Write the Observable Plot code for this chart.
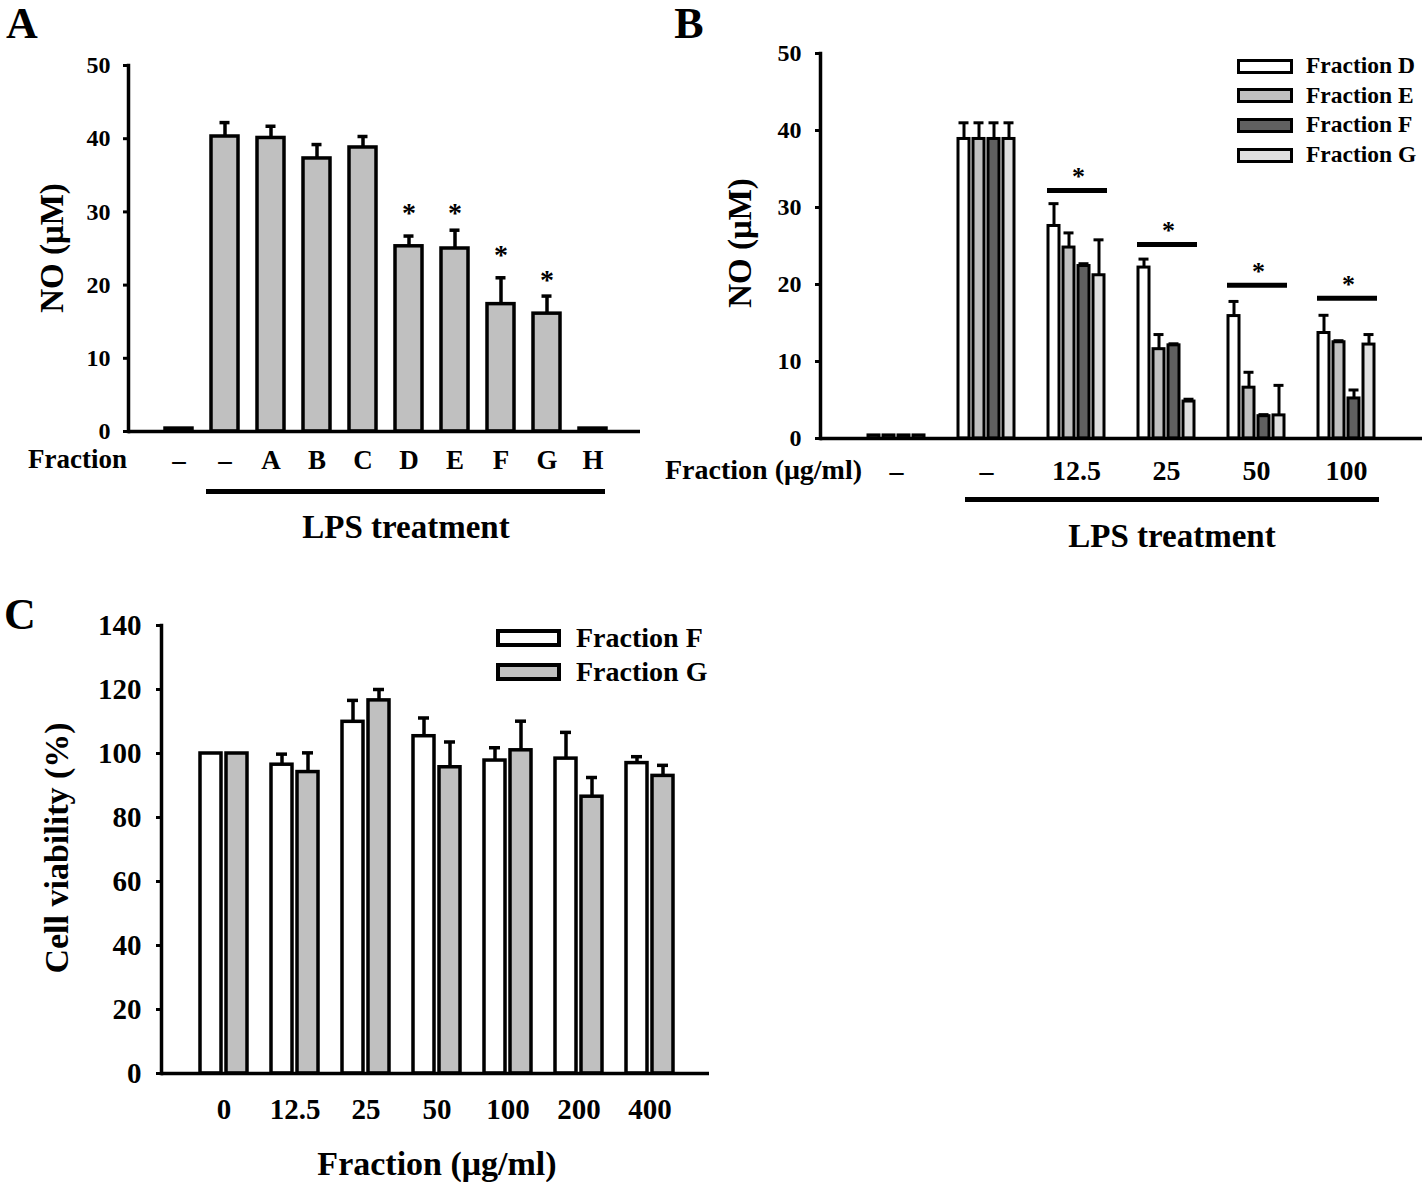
<!DOCTYPE html>
<html><head><meta charset="utf-8">
<script src="https://cdn.jsdelivr.net/npm/d3@7"></script>
<script src="https://cdn.jsdelivr.net/npm/@observablehq/plot@0.6"></script>
<style>
body{margin:0;background:#fff;}
#fig{position:relative;width:1422px;height:1182px;font-family:"Liberation Serif","Times New Roman",serif;font-weight:bold;color:#000;overflow:hidden;}
.abs{position:absolute;white-space:nowrap;line-height:1;}
.panel{position:absolute;}
.panel svg{position:absolute;left:0;top:0;overflow:visible;max-width:none;}
.sw{position:absolute;box-sizing:border-box;border:solid #000;}
</style></head><body><div id="fig"></div>
<script>
// ---------- Panel A data ----------
const catsA = ["ctrl","LPS","A","B","C","D","E","F","G","H"];
const labelsA = ["–","–","A","B","C","D","E","F","G","H"];
const meanA = [0.4,40.3,40.1,37.3,38.8,25.3,25.0,17.4,16.1,0.4];
const errA  = [0,1.9,1.6,1.9,1.5,1.4,2.5,3.6,2.4,0];
const starCatsA = ["D","E","F","G"];
const starYA = [30.3,30.3,24.5,21.1];
const ticksA = [0,10,20,30,40,50];

// ---------- Panel B data ----------
const groupsB = ["ctrl","LPS","12.5","25","50","100"];
const groupLabelsB = ["–","–","12.5","25","50","100"];
const seriesB = ["Fraction D","Fraction E","Fraction F","Fraction G"];
const colorsB = ["#ffffff","#c0c0c0","#606060","#e0e0e0"];
const meanBD = [0.4,38.9,27.6,22.2,15.9,13.7];
const errBD  = [0,2.1,2.9,1.1,1.9,2.3];
const meanBE = [0.4,38.9,24.8,11.6,6.6,12.5];
const errBE  = [0,2.1,1.9,1.9,2.0,0.2];
const meanBF = [0.4,38.9,22.4,12.1,2.9,5.2];
const errBF  = [0,2.1,0.3,0.2,0.2,1.1];
const meanBG = [0.4,38.9,21.2,4.8,3.0,12.2];
const errBG  = [0,2.1,4.6,0.3,3.9,1.3];
const sigGroupsB = ["12.5","25","50","100"];
const sigLevelB = [32.2,25.2,19.9,18.2];
const ticksB = [0,10,20,30,40,50];

// ---------- Panel C data ----------
const dosesC = ["0","12.5","25","50","100","200","400"];
const seriesC = ["Fraction F","Fraction G"];
const colorsC = ["#ffffff","#c0c0c0"];
const meanCF = [100,96.5,109.9,105.4,97.8,98.4,97.0];
const errCF  = [0,3.3,6.7,5.7,4.0,8.2,2.0];
const meanCG = [100,94.2,116.6,95.7,101.0,86.5,93.0];
const errCG  = [0,6.0,3.4,7.9,9.1,6.0,3.3];
const ticksC = [0,20,40,60,80,100,120,140];

// ---------- tables ----------
const dataA = catsA.map((c,i)=>({cat:c, mean:meanA[i], err:errA[i], upper:meanA[i]+errA[i]}));
const starsA = starCatsA.map((c,i)=>({cat:c, y:starYA[i]}));
const bMeans = [meanBD,meanBE,meanBF,meanBG], bErrs = [errBD,errBE,errBF,errBG];
const dataB = [];
groupsB.forEach((g,gi)=>seriesB.forEach((s,si)=>dataB.push({group:g, series:s, mean:bMeans[si][gi], err:bErrs[si][gi], upper:bMeans[si][gi]+bErrs[si][gi]})));
const sigB = sigGroupsB.map((g,i)=>({group:g, level:sigLevelB[i]}));
const cMeans = [meanCF,meanCG], cErrs = [errCF,errCG];
const dataC = [];
dosesC.forEach((g,gi)=>seriesC.forEach((s,si)=>dataC.push({dose:g, series:s, mean:cMeans[si][gi], err:cErrs[si][gi], upper:cMeans[si][gi]+cErrs[si][gi]})));

const FONT = '"Liberation Serif","Times New Roman",serif';
const baseStyle = {fontFamily: FONT, fontWeight: "bold", background: "transparent", color: "#000", overflow: "visible"};
const fig = document.getElementById("fig");

function panel(left, top, w, h){
  const d = document.createElement("div");
  d.className = "panel"; d.style.left = left+"px"; d.style.top = top+"px";
  d.style.width = w+"px"; d.style.height = h+"px";
  fig.appendChild(d); return d;
}
function txt(s, x, y, size, opts={}){
  const d = document.createElement("div");
  d.className = "abs"; d.textContent = s;
  d.style.fontSize = size+"px";
  if (opts.align === "right") { d.style.right = (1422 - x)+"px"; d.style.top = y+"px"; d.style.transform = "translateY(-50%)"; }
  else if (opts.align === "left") { d.style.left = x+"px"; d.style.top = y+"px"; d.style.transform = "translateY(-50%)"; }
  else { d.style.left = x+"px"; d.style.top = y+"px"; d.style.transform = "translate(-50%,-50%)" + (opts.rotate ? " rotate(-90deg)" : ""); }
  fig.appendChild(d); return d;
}
function hline(x1, x2, y, t){
  const d = document.createElement("div");
  d.style.position = "absolute"; d.style.left = x1+"px"; d.style.width = (x2-x1)+"px";
  d.style.top = (y - t/2)+"px"; d.style.height = t+"px"; d.style.background = "#000";
  fig.appendChild(d);
}
function legend(series, colors, x, y0, step, w, h, bw, size, gap){
  series.forEach((s,i)=>{
    const cy = y0 + i*step;
    const sw = document.createElement("div");
    sw.className = "sw"; sw.style.left = x+"px"; sw.style.top = (cy - h/2)+"px";
    sw.style.width = w+"px"; sw.style.height = h+"px"; sw.style.borderWidth = bw+"px";
    sw.style.background = colors[i];
    fig.appendChild(sw);
    txt(s, x + w + gap, cy, size, {align:"left"});
  });
}

// ---------- Panel A ----------
{
  const p = panel(0, 0, 650, 560);
  const errs = dataA.filter(d=>d.err>0);
  p.appendChild(Plot.plot({
    width: 650, height: 560, marginLeft: 128, marginRight: 10, marginTop: 65, marginBottom: 129,
    style: baseStyle,
    x: {domain: catsA, paddingInner: 0.407, paddingOuter: 0.728, align: 0.53, axis: null},
    y: {domain: [0,50], axis: null},
    marks: [
      Plot.barY(dataA, {x: "cat", y: "mean", fill: "#c0c0c0", stroke: "#000", strokeWidth: 3.5}),
      Plot.ruleX(errs, {x: "cat", y1: "mean", y2: "upper", stroke: "#000", strokeWidth: 3.5}),
      Plot.tickY(errs, {x: "cat", y: "upper", stroke: "#000", strokeWidth: 3.5, insetLeft: 8.5, insetRight: 8.5}),
      Plot.text(starsA, {x: "cat", y: "y", text: () => "*", fontSize: 28, dy: 3}),
      Plot.frame({anchor: "left", stroke: "#000", strokeWidth: 3.5}),
      Plot.ruleY([0], {stroke: "#000", strokeWidth: 3.5}),
      Plot.axisY({ticks: ticksA, tickSize: 5, tickPadding: 13, strokeWidth: 3, fontSize: 24, fontWeight: "bold", label: null}),
      Plot.axisX({tickSize: 0, tickPadding: 18, fontSize: 27, fontWeight: "bold", label: null, tickFormat: d => labelsA[catsA.indexOf(d)]})
    ]
  }));
  txt("A", 22, 24, 44);
  txt("NO (μM)", 52, 248, 33, {rotate: true});
  txt("Fraction", 127, 459, 27, {align: "right"});
  hline(206, 605, 491, 5);
  txt("LPS treatment", 406, 527, 33);
}

// ---------- Panel B ----------
{
  const W = 762, H = 560, M = {marginLeft: 160, marginRight: 0, marginTop: 53, marginBottom: 122};
  const p = panel(660, 0, W, H);
  const errs = dataB.filter(d=>d.err>0);
  p.appendChild(Plot.plot({
    width: W, height: H, ...M, style: baseStyle,
    fx: {domain: groupsB, paddingInner: 0, paddingOuter: 0.315, align: 0.5},
    x: {domain: seriesB, paddingInner: 0.29, paddingOuter: 0.98, axis: null},
    y: {domain: [0,50], axis: null},
    color: {domain: seriesB, range: colorsB},
    marks: [
      Plot.barY(dataB, {fx: "group", x: "series", y: "mean", fill: "series", stroke: "#000", strokeWidth: 3}),
      Plot.ruleX(errs, {fx: "group", x: "series", y1: "mean", y2: "upper", stroke: "#000", strokeWidth: 3}),
      Plot.tickY(errs, {fx: "group", x: "series", y: "upper", stroke: "#000", strokeWidth: 3, insetLeft: 0.5, insetRight: 0.5}),
      Plot.ruleY(sigB, {fx: "group", y: "level", stroke: "#000", strokeWidth: 5, insetLeft: 16, insetRight: 14}),
      Plot.text(sigB, {fx: "group", y: "level", text: () => "*", fontSize: 26, dy: -14, dx: 2}),
      Plot.axisFx({anchor: "bottom", tickSize: 0, tickPadding: 22, fontSize: 28, fontWeight: "bold", label: null, tickFormat: d => groupLabelsB[groupsB.indexOf(d)]})
    ]
  }));
  p.appendChild(Plot.plot({
    width: W, height: H, ...M, style: baseStyle,
    y: {domain: [0,50], axis: null},
    marks: [
      Plot.frame({anchor: "left", stroke: "#000", strokeWidth: 3.5}),
      Plot.ruleY([0], {stroke: "#000", strokeWidth: 3.5}),
      Plot.axisY({ticks: ticksB, tickSize: 5, tickPadding: 14, strokeWidth: 3, fontSize: 24, fontWeight: "bold", label: null})
    ]
  }));
  txt("B", 689, 24, 44);
  txt("NO (μM)", 740, 243, 33, {rotate: true});
  txt("Fraction (μg/ml)", 665, 470, 28, {align: "left"});
  hline(965, 1379, 499, 5);
  txt("LPS treatment", 1172, 536, 33);
  legend(seriesB, colorsB, 1237, 66, 29.7, 56, 15, 3.5, 23.5, 13);
}

// ---------- Panel C ----------
{
  const W = 720, H = 592, M = {marginLeft: 161, marginRight: 11, marginTop: 35, marginBottom: 109};
  const p = panel(0, 590, W, H);
  const errs = dataC.filter(d=>d.err>0);
  p.appendChild(Plot.plot({
    width: W, height: H, ...M, style: baseStyle,
    fx: {domain: dosesC, paddingInner: 0, paddingOuter: 0.336, align: 0.52},
    x: {domain: seriesC, paddingInner: 0.185, paddingOuter: 0.415, axis: null},
    y: {domain: [0,140], axis: null},
    color: {domain: seriesC, range: colorsC},
    marks: [
      Plot.barY(dataC, {fx: "dose", x: "series", y: "mean", fill: "series", stroke: "#000", strokeWidth: 3.5}),
      Plot.ruleX(errs, {fx: "dose", x: "series", y1: "mean", y2: "upper", stroke: "#000", strokeWidth: 3.5}),
      Plot.tickY(errs, {fx: "dose", x: "series", y: "upper", stroke: "#000", strokeWidth: 3.5, insetLeft: 5, insetRight: 5}),
      Plot.axisFx({anchor: "bottom", tickSize: 0, tickPadding: 25, fontSize: 29, fontWeight: "bold", label: null})
    ]
  }));
  p.appendChild(Plot.plot({
    width: W, height: H, ...M, style: baseStyle,
    y: {domain: [0,140], axis: null},
    marks: [
      Plot.frame({anchor: "left", stroke: "#000", strokeWidth: 3.5}),
      Plot.ruleY([0], {stroke: "#000", strokeWidth: 3.5}),
      Plot.axisY({ticks: ticksC, tickSize: 5, tickPadding: 15, strokeWidth: 3, fontSize: 29, fontWeight: "bold", label: null})
    ]
  }));
  txt("C", 20, 615, 44);
  txt("Cell viability (%)", 57, 848, 34, {rotate: true});
  txt("Fraction (μg/ml)", 437, 1164, 34);
  legend(seriesC, colorsC, 496, 638, 34, 65, 18, 4.5, 28, 15);
}
</script></body></html>
